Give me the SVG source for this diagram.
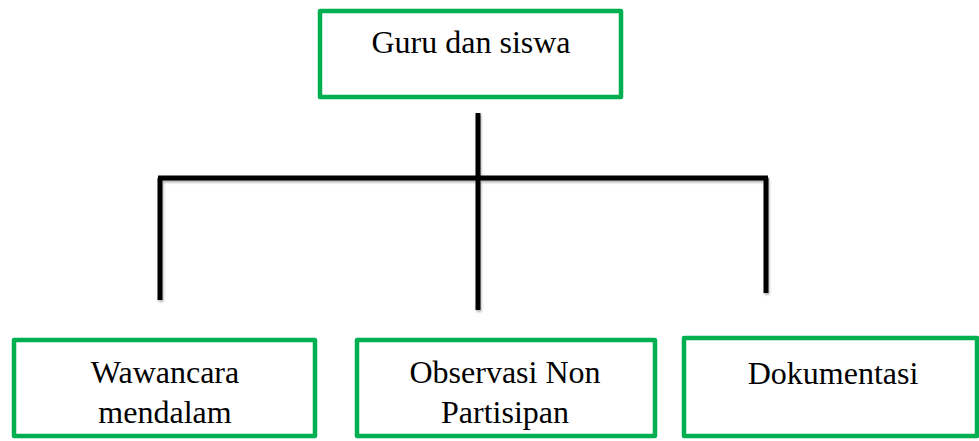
<svg xmlns="http://www.w3.org/2000/svg" width="979" height="441" viewBox="0 0 979 441">
<style>
.box{fill:#fff;stroke:#00B050;stroke-width:4.5;stroke-linejoin:round}
.lbl{font-family:"Liberation Serif","Times New Roman",serif;font-size:32px;fill:#000;text-anchor:middle}
.ln{stroke:#000;stroke-width:5;fill:none;stroke-linecap:butt}
</style>
<defs>
<filter id="sh" x="-5%" y="-5%" width="110%" height="110%">
<feDropShadow dx="1" dy="2" stdDeviation="1.2" flood-color="#000" flood-opacity="0.3"/>
</filter>
</defs>
<rect width="979" height="441" fill="#fff"/>
<g id="connectors" filter="url(#sh)">
<line class="ln" x1="478" y1="113" x2="478" y2="310"/>
<line class="ln" x1="158" y1="178" x2="768" y2="178"/>
<line class="ln" x1="160" y1="178" x2="160" y2="300"/>
<line class="ln" x1="766" y1="178" x2="766" y2="293"/>
</g>
<g id="guru">
<rect class="box" x="320" y="11" width="301" height="86"/>
<text class="lbl" x="471" y="53">Guru dan siswa</text>
</g>
<g id="wawancara">
<rect class="box" x="14" y="340" width="301" height="96"/>
<text class="lbl" x="165" y="383">Wawancara</text>
<text class="lbl" x="165" y="423">mendalam</text>
</g>
<g id="observasi">
<rect class="box" x="357" y="340" width="298" height="96"/>
<text class="lbl" x="505" y="383">Observasi Non</text>
<text class="lbl" x="505" y="423">Partisipan</text>
</g>
<g id="dokumentasi">
<rect class="box" x="684" y="338" width="293" height="98"/>
<text class="lbl" x="833" y="384">Dokumentasi</text>
</g>
</svg>
